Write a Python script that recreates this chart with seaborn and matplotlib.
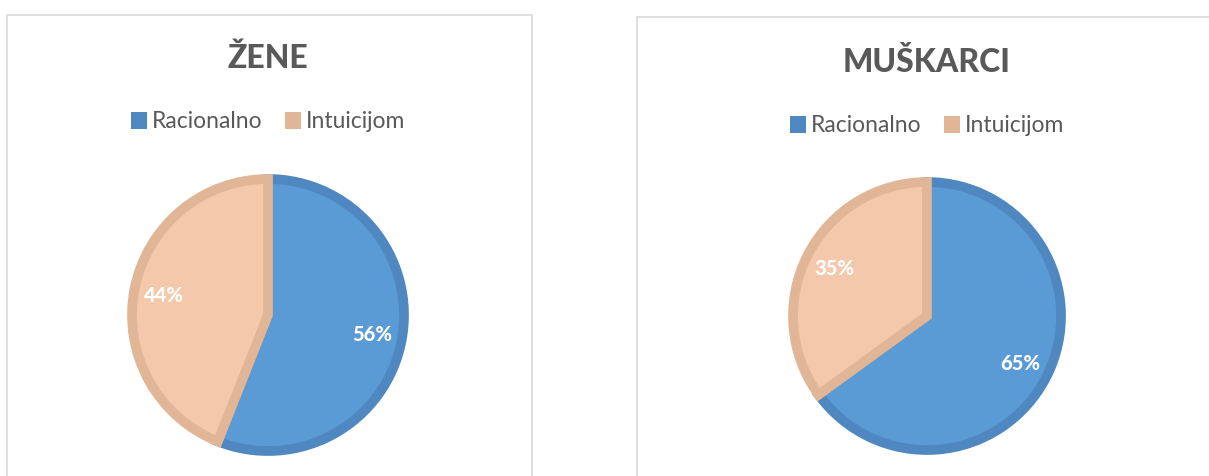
import matplotlib
matplotlib.use("Agg")
import matplotlib.pyplot as plt
import seaborn as sns
from matplotlib.patches import Patch, Rectangle

# data
categories = ["Racionalno", "Intuicijom"]
titles = ["ŽENE", "MUŠKARCI"]
zene = [56, 44]
muskarci = [65, 35]

face_colors = ["#5B9BD5", "#F4C8AA"]
edge_colors = ["#4F88C1", "#E1B697"]
text_gray = "#595959"

sns.set_theme(style="white")
plt.rcParams["font.family"] = ["Lato", "DejaVu Sans"]

W, H = 1209, 476
fig = plt.figure(figsize=(W / 100, H / 100), dpi=100)
fig.patch.set_facecolor("white")

# panel frames (open at the bottom, cut by the image edge)
for x0, x1, top in [(7, 532, 15), (637, 1215, 17)]:
    fig.add_artist(Rectangle((x0 / W, -0.05), (x1 - x0) / W, (H - top) / H + 0.05,
                             transform=fig.transFigure, fill=False,
                             edgecolor="#D9D9D9", linewidth=1.2))

panels = [
    (titles[0], zene, 268, 315, 136, 58, 122),
    (titles[1], muskarci, 927, 316, 134, 62, 126),
]

for title, values, cx, cy, r, ty, ly in panels:
    side = 2.2 * r
    ax = fig.add_axes([(cx - side / 2) / W, (H - cy - side / 2) / H, side / W, side / H])
    wedges, _, autotexts = ax.pie(
        values, startangle=90, counterclock=False, colors=face_colors,
        autopct=lambda p: f"{p:.0f}%", pctdistance=0.78,
        wedgeprops=dict(linewidth=7, joinstyle="miter"),
        textprops=dict(color="white", fontsize=14.5, fontweight="black"))
    for w, ec in zip(wedges, edge_colors):
        w.set_edgecolor(ec)
    ax.set_xlim(-1.1, 1.1)
    ax.set_ylim(-1.1, 1.1)
    ax.set_aspect("equal")
    ax.axis("off")

    fig.text(cx / W, (H - ty) / H, title, ha="center", va="center",
             fontsize=23, fontweight="black", color=text_gray)

    handles = [Patch(facecolor=c, edgecolor="none") for c in edge_colors]
    fig.legend(handles, categories, loc="center", bbox_to_anchor=(cx / W, (H - ly) / H),
               ncol=2, frameon=False, fontsize=16.5, labelcolor=text_gray,
               handlelength=0.7, handleheight=0.7, handletextpad=0.2,
               columnspacing=1.0)

fig.savefig("out.png", dpi=100, facecolor="white")
